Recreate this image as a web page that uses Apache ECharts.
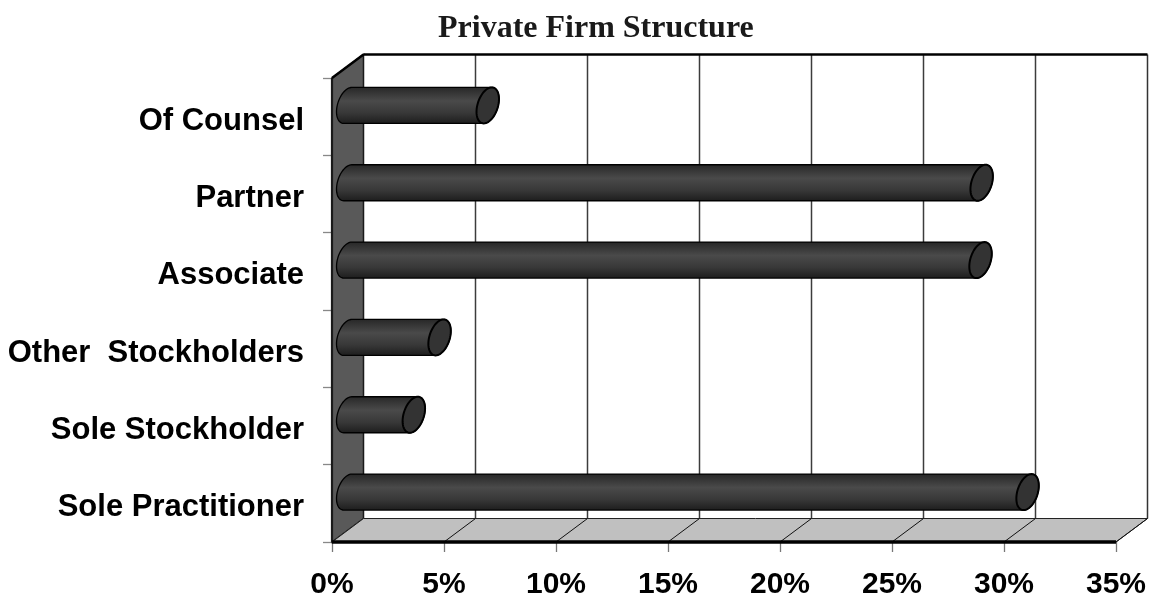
<!DOCTYPE html>
<html>
<head>
<meta charset="utf-8">
<style>html,body{margin:0;padding:0;background:#fff}#chart{width:1151px;height:594px}</style>
<script src="https://cdn.jsdelivr.net/npm/echarts@6/dist/echarts.min.js"></script>
</head>
<body>
<div id="chart"></div>
<script>
// Share of respondents by position, listed bottom to top as on the axis.
var categories = ['Sole Practitioner', 'Sole Stockholder', 'Other  Stockholders', 'Associate', 'Partner', 'Of Counsel'];
var shares = [30.35, 2.95, 4.1, 28.25, 28.3, 6.25];
var tickLabels = ['0%', '5%', '10%', '15%', '20%', '25%', '30%', '35%'];
var axisMax = 35;
var axisStep = 5;
var chartTitle = 'Private Firm Structure';

// Oblique projection of the box: the back plane is shifted by this much.
var depthX = 31.5;
var depthY = -23.5;
var cylinderHeight = 36;
var capRadiusX = 10.5;
var capShear = -4;

var chart = echarts.init(document.getElementById('chart'));

function polyStyle(fill, stroke, width) {
  return { fill: fill, stroke: stroke, lineWidth: width };
}

// Walls and floor of the 3D frame, positioned from the axis scale.
function renderFrame(params, api) {
  var g = params.coordSys;
  var x0 = g.x, x1 = g.x + g.width, yT = g.y, yB = g.y + g.height;
  var kids = [];
  kids.push({ type: 'polygon', shape: { points: [[x0, yT], [x0 + depthX, yT + depthY], [x0 + depthX, yB + depthY], [x0, yB]] }, style: polyStyle('#595959', '#1a1a1a', 1.5) });
  kids.push({ type: 'polygon', shape: { points: [[x0, yB], [x0 + depthX, yB + depthY], [x1 + depthX, yB + depthY], [x1, yB]] }, style: polyStyle('#c0c0c0', '#222', 1) });
  kids.push({ type: 'line', shape: { x1: x0, y1: yT, x2: x0, y2: yB }, style: { stroke: '#1a1a1a', lineWidth: 2.2 } });
  kids.push({ type: 'line', shape: { x1: x1 + depthX, y1: yT + depthY, x2: x1 + depthX, y2: yB + depthY }, style: { stroke: '#333', lineWidth: 1.5 } });
  kids.push({ type: 'line', shape: { x1: x0, y1: yT, x2: x0 + depthX, y2: yT + depthY }, style: { stroke: '#000', lineWidth: 2.5 } });
  // Gridlines on the back plane and their continuation across the floor.
  for (var v = axisStep; v <= axisMax; v += axisStep) {
    var x = api.coord([v, 0])[0];
    if (v < axisMax) {
      kids.push({ type: 'line', shape: { x1: x + depthX, y1: yT + depthY, x2: x + depthX, y2: yB + depthY }, style: { stroke: '#3c3c3c', lineWidth: 1.5 } });
    }
    kids.push({ type: 'line', shape: { x1: x, y1: yB, x2: x + depthX, y2: yB + depthY }, style: { stroke: '#111', lineWidth: 1 } });
  }
  kids.push({ type: 'line', shape: { x1: x0 + depthX, y1: yT + depthY, x2: x1 + depthX, y2: yT + depthY }, style: { stroke: '#000', lineWidth: 2.5 } });
  kids.push({ type: 'line', shape: { x1: x0, y1: yB, x2: x1, y2: yB }, style: { stroke: '#000', lineWidth: 3.5 } });
  return { type: 'group', children: kids };
}

// Points of a sheared ellipse; the shear follows the depth direction.
function capPoints(cx, cy) {
  var pts = [];
  for (var i = 0; i < 64; i++) {
    var t = i / 64 * Math.PI * 2;
    pts.push([cx + capRadiusX * Math.cos(t) + capShear * Math.sin(t), cy + cylinderHeight / 2 * Math.sin(t)]);
  }
  return pts;
}

function renderCylinder(params, api) {
  var start = api.coord([0, api.value(1)]);
  var end = api.coord([api.value(0), api.value(1)]);
  var cy = end[1] + depthY / 2 + 0.5;
  var cxL = start[0] + depthX / 2;
  var cxR = end[0] + depthX / 2;
  var left = capPoints(cxL, cy);
  var right = capPoints(cxR, cy);
  // Outline: left half of the near cap, then along to the far cap's right half.
  var body = [];
  var n = left.length;
  for (var i = n / 4; i <= 3 * n / 4; i++) body.push(left[i % n]);
  for (var j = 3 * n / 4; j <= 5 * n / 4; j++) body.push(right[j % n]);
  return {
    type: 'group',
    children: [
      { type: 'polygon', shape: { points: body }, style: {
          fill: new echarts.graphic.LinearGradient(0, 0, 0, 1, [
            { offset: 0, color: '#262626' },
            { offset: 0.38, color: '#4a4a4a' },
            { offset: 0.7, color: '#383838' },
            { offset: 1, color: '#1c1c1c' }
          ]),
          stroke: '#000', lineWidth: 1.3 } },
      { type: 'polygon', shape: { points: right }, style: { fill: '#333', stroke: '#000', lineWidth: 2 } }
    ]
  };
}

var labelFont = { color: '#000', fontFamily: 'Liberation Sans', fontWeight: 'bold' };

chart.setOption({
  animation: false,
  backgroundColor: '#fff',
  title: {
    text: chartTitle, left: 433, top: 8,
    textStyle: { fontFamily: 'Liberation Serif', fontWeight: 'bold', fontSize: 32, color: '#1a1a1a' }
  },
  grid: { left: 332, top: 78, width: 784, height: 464, outerBoundsMode: 'none' },
  xAxis: {
    type: 'value', min: 0, max: axisMax, interval: axisStep,
    splitLine: { show: false },
    axisLine: { show: false },
    axisTick: { show: true, length: 10, lineStyle: { color: '#777', width: 1.3 } },
    axisLabel: Object.assign({
      margin: 28, fontSize: 30,
      formatter: function (v) { return tickLabels[v / axisStep]; }
    }, labelFont)
  },
  yAxis: {
    type: 'category', data: categories,
    axisLine: { show: false },
    axisTick: { show: true, length: 9, alignWithLabel: false, lineStyle: { color: '#888', width: 1.3 } },
    axisLabel: {
      margin: 28,
      formatter: function (v) { return '{name|' + v + '}'; },
      rich: { name: Object.assign({ padding: [9, 0, 0, 0], fontSize: 31 }, labelFont) }
    }
  },
  series: [
    { type: 'custom', silent: true, renderItem: renderFrame, data: [[0, 0]], encode: { x: 0, y: 1 }, z: 1 },
    { type: 'custom', silent: true, renderItem: renderCylinder, z: 2,
      data: shares.map(function (s, i) { return [s, i]; }), encode: { x: 0, y: 1 } }
  ]
});
</script>
</body>
</html>
